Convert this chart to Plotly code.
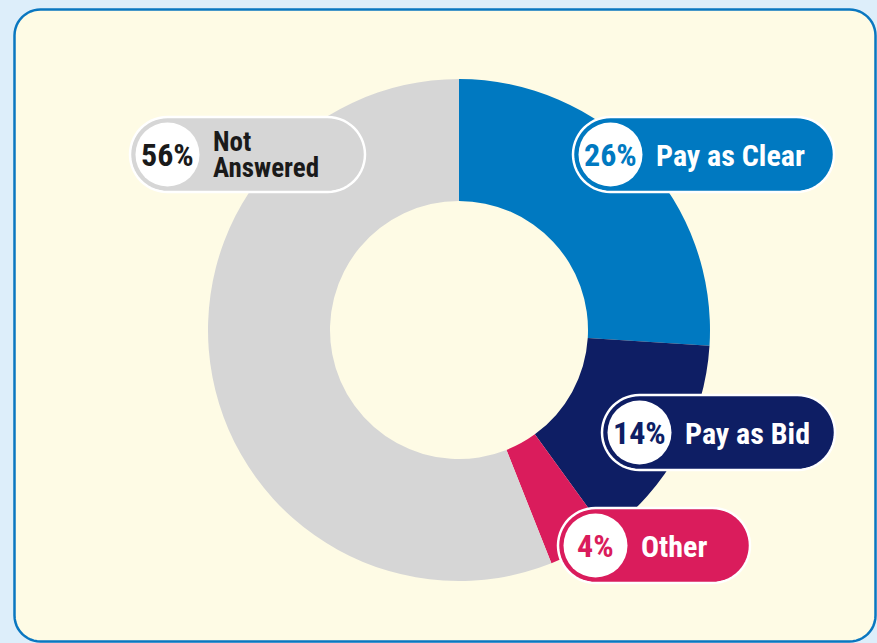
import math
import plotly.graph_objects as go

# Survey answers, clockwise from 12 o'clock
categories = ["Pay as Clear", "Pay as Bid", "Other", "Not Answered"]
shares = [26, 14, 4, 56]

# Slice / badge styling
slice_colors = ["#0079c1", "#0e1e64", "#da1c5c", "#d6d6d6"]
label_colors = ["#ffffff", "#ffffff", "#ffffff", "#1a1a1a"]
pct_colors = ["#0079c1", "#0e1e64", "#da1c5c", "#1a1a1a"]

# Badge placement in pixels: left edge, vertical centre, width, wrap text
badge_layout = [
    (573, 154.5, 261, False),
    (602, 432.5, 233, False),
    (558, 545.5, 192, False),
    (130, 154.5, 235, True),
]

W, H = 877, 643
FONT = "Liberation Sans Narrow, Arial Narrow, Roboto Condensed, DejaVu Sans Condensed, sans-serif"


def px(x):
    return x / W


def py(y):
    return 1 - y / H


def arc(cx, cy, r, a0, a1, n=28):
    pts = []
    for i in range(n + 1):
        a = math.radians(a0 + (a1 - a0) * i / n)
        pts.append((cx + r * math.cos(a), cy + r * math.sin(a)))
    return pts


def to_path(pts):
    s = "M " + " L ".join(f"{px(x):.5f},{py(y):.5f}" for x, y in pts)
    return s + " Z"


def pill_path(left, cy, width, height):
    r = height / 2
    pts = arc(left + width - r, cy, r, -90, 90) + arc(left + r, cy, r, 90, 270)
    return to_path(pts)


def rounded_rect(x0, y0, x1, y1, r):
    pts = (arc(x1 - r, y0 + r, r, -90, 0, 12) + arc(x1 - r, y1 - r, r, 0, 90, 12)
           + arc(x0 + r, y1 - r, r, 90, 180, 12) + arc(x0 + r, y0 + r, r, 180, 270, 12))
    return to_path(pts)


# Donut geometry (pixels)
CX, CY, R = 459, 330, 251

fig = go.Figure(go.Pie(
    labels=categories,
    values=shares,
    marker=dict(colors=slice_colors, line=dict(width=0)),
    hole=0.514,
    sort=False,
    direction="clockwise",
    rotation=0,
    textinfo="none",
    hoverinfo="label+percent",
    showlegend=False,
    domain=dict(x=[px(CX - R), px(CX + R)], y=[py(CY + R), py(CY - R)]),
))

shapes = [dict(
    type="path", xref="paper", yref="paper", layer="below",
    path=rounded_rect(14.5, 9.5, 875.5, 641.5, 26),
    fillcolor="#fefbe5", line=dict(color="#0a77c0", width=2.5),
)]
annotations = []

PILL_H = 75
for cat, val, col, lcol, pcol, (left, cy, width, wrap) in zip(
        categories, shares, slice_colors, label_colors, pct_colors, badge_layout):
    shapes.append(dict(
        type="path", xref="paper", yref="paper", layer="above",
        path=pill_path(left, cy, width, PILL_H),
        fillcolor=col, line=dict(color="#ffffff", width=2.5),
    ))
    ccx = left + PILL_H / 2
    cr = 32
    shapes.append(dict(
        type="circle", xref="paper", yref="paper", layer="above",
        x0=px(ccx - cr), x1=px(ccx + cr), y0=py(cy + cr), y1=py(cy - cr),
        fillcolor="#ffffff", line=dict(width=0),
    ))
    annotations.append(dict(
        x=px(ccx), y=py(cy + 0.5), xref="paper", yref="paper",
        text=f"{val}%", showarrow=False, xanchor="center", yanchor="middle",
        font=dict(family=FONT, size=32, color=pcol, weight=700),
    ))
    lines = cat.split(" ") if wrap else [cat]
    size = 27 if wrap else 30
    step = 26
    y0 = cy - step * (len(lines) - 1) / 2
    for i, line in enumerate(lines):
        annotations.append(dict(
            x=px(left + 81), y=py(y0 + i * step + 0.5), xref="paper", yref="paper",
            text=line, showarrow=False, xanchor="left", yanchor="middle",
            font=dict(family=FONT, size=size, color=lcol, weight=700),
        ))

fig.update_layout(
    width=W, height=H,
    margin=dict(l=0, r=0, t=0, b=0),
    paper_bgcolor="#ddeefa",
    plot_bgcolor="rgba(0,0,0,0)",
    shapes=shapes,
    annotations=annotations,
)

fig.write_html("out.html")
